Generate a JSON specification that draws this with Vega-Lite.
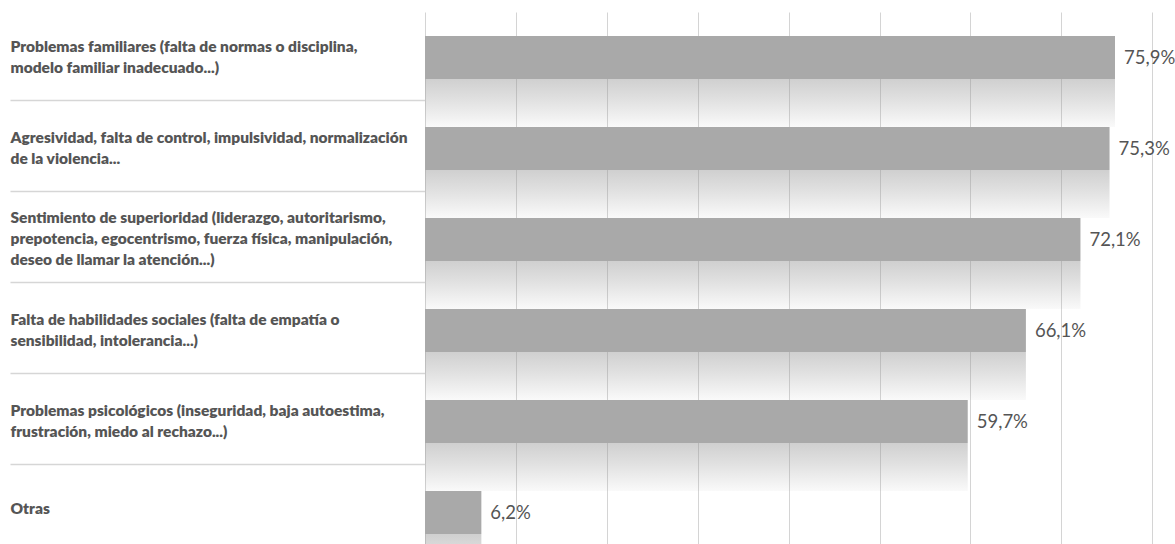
{
  "$schema": "https://vega.github.io/schema/vega-lite/v6.json",
  "autosize": "none",
  "width": 750,
  "height": 546,
  "padding": {"left": 425, "top": 12, "right": 0, "bottom": 0},
  "background": "white",
  "config": {
    "view": {"stroke": null},
    "locale": {
      "number": {"decimal": ",", "thousands": ".", "grouping": [3], "currency": ["", " €"]}
    }
  },
  "data": {
    "values": [
      {"cat": "Problemas familiares (falta de normas o disciplina,|modelo familiar inadecuado...)", "v": 0.759},
      {"cat": "Agresividad, falta de control, impulsividad, normalización|de la violencia...", "v": 0.753},
      {"cat": "Sentimiento de superioridad (liderazgo, autoritarismo,|prepotencia, egocentrismo, fuerza física, manipulación,|deseo de llamar la atención...)", "v": 0.721},
      {"cat": "Falta de habilidades sociales (falta de empatía o|sensibilidad, intolerancia...)", "v": 0.661},
      {"cat": "Problemas psicológicos (inseguridad, baja autoestima,|frustración, miedo al rechazo...)", "v": 0.597},
      {"cat": "Otras", "v": 0.062}
    ]
  },
  "encoding": {
    "y": {
      "field": "cat",
      "type": "nominal",
      "sort": null,
      "scale": {"paddingInner": 0.53, "paddingOuter": 0.265},
      "axis": {
        "title": null,
        "domain": false,
        "ticks": true,
        "tickSize": 415,
        "tickColor": "#d6d6d6",
        "tickWidth": 1.5,
        "tickOffset": 42,
        "labelOffset": {
          "condition": [
            {"test": "length(split(datum.value, '|')) == 3", "value": -64},
            {"test": "length(split(datum.value, '|')) == 2", "value": -53.5}
          ],
          "value": -46
        },
        "labelPadding": 0,
        "labelAlign": "left",
        "labelBaseline": "middle",
        "labelLimit": 420,
        "labelFont": "Lato",
        "labelFontWeight": 800,
        "labelFontSize": 15.5,
        "labelColor": "#555555",
        "labelLineHeight": 21,
        "labelExpr": "split(datum.label, '|')"
      }
    },
    "x": {
      "field": "v",
      "type": "quantitative",
      "scale": {"domain": [0, 0.825], "nice": false},
      "axis": {
        "title": null,
        "labels": false,
        "ticks": false,
        "domain": false,
        "grid": true,
        "gridColor": "#d4d4d4",
        "gridWidth": 1,
        "values": [0, 0.1, 0.2, 0.3, 0.4, 0.5, 0.6, 0.7, 0.8]
      }
    }
  },
  "layer": [
    {
      "mark": {
        "type": "bar",
        "height": 48,
        "yOffset": 45.5,
        "x2Offset": -10,
        "fill": {
          "gradient": "linear",
          "x1": 0, "y1": 0, "x2": 0, "y2": 1,
          "stops": [
            {"offset": 0, "color": "rgba(150,150,150,0.45)"},
            {"offset": 0.4, "color": "rgba(150,150,150,0.3)"},
            {"offset": 1, "color": "rgba(150,150,150,0.05)"}
          ]
        }
      }
    },
    {
      "mark": {"type": "bar", "color": "#a9a9a9"}
    },
    {
      "mark": {
        "type": "text",
        "align": "left",
        "baseline": "middle",
        "dx": 9,
        "font": "Lato",
        "fontSize": 18.5,
        "color": "#555555"
      },
      "encoding": {
        "text": {"field": "v", "type": "quantitative", "format": ".1%"}
      }
    }
  ]
}
